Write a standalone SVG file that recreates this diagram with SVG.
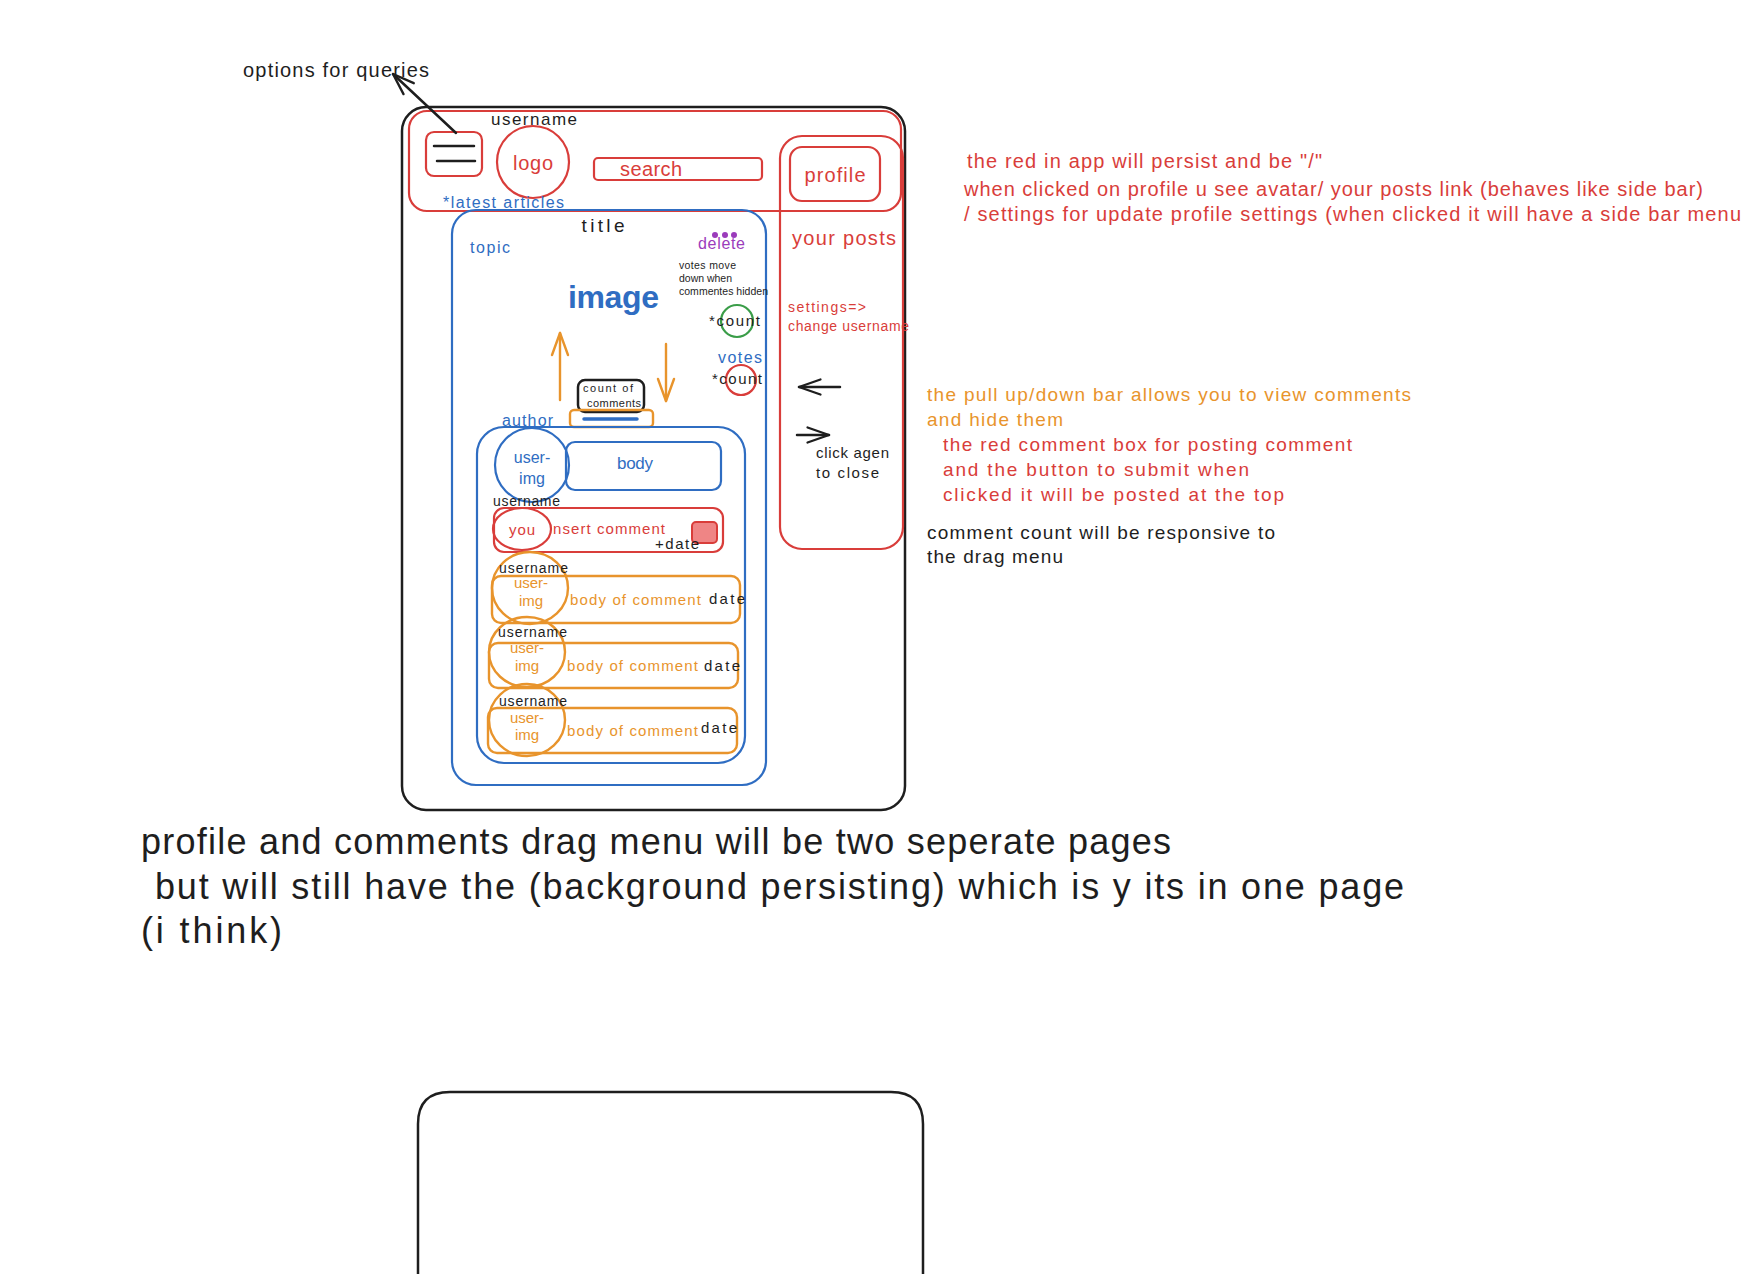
<svg xmlns="http://www.w3.org/2000/svg" width="1763" height="1274" viewBox="0 0 1763 1274">
  <style>
    text { font-family: "Liberation Sans", Arial, sans-serif; dominant-baseline: central; }
    .k { fill: #1e1e1e; }
    .r { fill: #d93d3a; }
    .b { fill: #2f6dc2; }
    .o { fill: #e8942c; }
    .p { fill: #9b3cbb; }
    .mid { text-anchor: middle; }
    .sk { fill: none; stroke: #1e1e1e; stroke-width: 2.5; stroke-linecap: round; }
    .sr { fill: none; stroke: #d93d3a; stroke-width: 2.2; }
    .sb { fill: none; stroke: #2f6dc2; stroke-width: 2.2; }
    .so { fill: none; stroke: #e8942c; stroke-width: 2.4; }
    .sg { fill: none; stroke: #3a9d48; stroke-width: 2.2; }
    .f20 { font-size: 20px; }
    .f16 { font-size: 16px; }
    .f15 { font-size: 15px; }
    .f14 { font-size: 14px; }
  </style>
  <defs>
    <marker id="headK" markerUnits="userSpaceOnUse" markerWidth="30" markerHeight="30" viewBox="-24 -12 28 24" refX="0" refY="0" orient="auto">
      <path d="M -20 -7 L 0 0 L -20 7" fill="none" stroke="#1e1e1e" stroke-width="2.2" stroke-linecap="round" stroke-linejoin="round"/>
    </marker>
    <marker id="headO" markerUnits="userSpaceOnUse" markerWidth="30" markerHeight="30" viewBox="-26 -12 30 24" refX="0" refY="0" orient="auto">
      <path d="M -22 -8 L 0 0 L -22 8" fill="none" stroke="#e8942c" stroke-width="2.4" stroke-linecap="round" stroke-linejoin="round"/>
    </marker>
  </defs>

  <rect width="1763" height="1274" fill="#ffffff"/>

  <!-- phone frame -->
  <g id="phone-frame">
    <rect x="402" y="107" width="503" height="703" rx="24" class="sk"/>
  </g>

  <!-- top app bar -->
  <g id="app-bar">
    <rect x="409" y="111" width="492" height="100" rx="18" class="sr"/>
  </g>
  <g id="menu-button">
    <rect x="426" y="132" width="56" height="44" rx="8" class="sr"/>
    <line x1="434" y1="146" x2="474" y2="146" class="sk"/>
    <line x1="437" y1="161" x2="475" y2="161" class="sk"/>
  </g>
  <g id="logo">
    <text x="534" y="119" class="k mid" font-size="17" textLength="86">username</text>
    <ellipse cx="533" cy="162" rx="36" ry="36" class="sr"/>
    <text x="533" y="163" class="r mid f20" textLength="40">logo</text>
  </g>
  <g id="search">
    <rect x="594" y="158" width="168" height="22" rx="4" class="sr"/>
    <text x="620" y="169" class="r f20" textLength="62">search</text>
  </g>
  <g id="profile-panel">
    <rect x="780" y="136" width="123" height="413" rx="22" class="sr"/>
    <rect x="790" y="147" width="90" height="54" rx="12" class="sr"/>
    <text x="835" y="175" class="r mid f20" textLength="61">profile</text>
    <text x="792" y="238" class="r f20" textLength="104">your posts</text>
    <text x="788" y="307" class="r f14" textLength="78">settings=&gt;</text>
    <text x="788" y="326" class="r f14" textLength="121">change username</text>
    <text x="816" y="452" class="k f15" textLength="73">click agen</text>
    <text x="816" y="472" class="k f15" textLength="63">to close</text>
  </g>
  <g id="latest-articles">
    <text x="443" y="202" class="b f16" textLength="121">*latest articles</text>
  </g>

  <!-- article card -->
  <g id="article-card">
    <rect x="452" y="210" width="314" height="575" rx="24" class="sb"/>
    <text x="603" y="225" class="k mid" font-size="19" textLength="43">title</text>
    <text x="470" y="247" class="b f16" textLength="40">topic</text>
    <text x="568" y="297" class="b" font-size="32" font-weight="bold" textLength="91">image</text>
    <text x="502" y="420" class="b f16" textLength="51">author</text>
  </g>
  <g id="delete">
    <circle cx="715" cy="235" r="3" class="p"/>
    <circle cx="725" cy="235" r="3" class="p"/>
    <circle cx="734" cy="235" r="3" class="p"/>
    <text x="698" y="243" class="p f16" textLength="47">delete</text>
  </g>
  <g id="votes-note">
    <text x="679" y="265" class="k" font-size="10.5" textLength="57">votes move</text>
    <text x="679" y="278" class="k" font-size="10.5" textLength="53">down when</text>
    <text x="679" y="291" class="k" font-size="10.5" textLength="89">commentes hidden</text>
  </g>
  <g id="comment-count">
    <circle cx="737" cy="321" r="16" class="sg"/>
    <text x="709" y="320" class="k f15" textLength="51">*count</text>
  </g>
  <g id="votes">
    <text x="718" y="357" class="b f16" textLength="44">votes</text>
    <circle cx="741" cy="380" r="15" class="sr"/>
    <text x="712" y="378" class="k f15" textLength="50">*count</text>
  </g>
  <g id="count-of-comments">
    <rect x="578" y="380" width="66" height="32" rx="7" class="sk" stroke-width="2"/>
    <text x="583" y="388" class="k" font-size="11" textLength="50">count of</text>
    <text x="587" y="403" class="k" font-size="11" textLength="54">comments</text>
  </g>
  <g id="drag-bar">
    <rect x="570" y="410" width="83" height="17" rx="4" class="so"/>
    <line x1="584" y1="419" x2="637" y2="419" stroke="#2f6dc2" stroke-width="3.5" stroke-linecap="round"/>
  </g>

  <!-- comments panel -->
  <g id="comments-panel">
    <rect x="477" y="427" width="268" height="336" rx="27" class="sb"/>
  </g>
  <g id="author-post">
    <circle cx="532" cy="465" r="37" class="sb"/>
    <text x="532" y="457" class="b mid f16">user-</text>
    <text x="532" y="478" class="b mid f16">img</text>
    <rect x="566" y="442" width="155" height="48" rx="9" class="sb"/>
    <text x="635" y="463" class="b mid" font-size="17" textLength="36">body</text>
  </g>
  <g id="new-comment">
    <text x="493" y="501" class="k f14" textLength="67">username</text>
    <rect x="494" y="508" width="229" height="44" rx="10" class="sr"/>
    <ellipse cx="522" cy="529" rx="29" ry="21" class="sr"/>
    <text x="522" y="529" class="r mid f15" textLength="26">you</text>
    <text x="553" y="528" class="r f15" textLength="112">nsert comment</text>
    <rect x="692" y="522" width="25" height="21" rx="4" fill="#ef8585" stroke="#d93d3a" stroke-width="2"/>
    <text x="655" y="543" class="k f15" textLength="44">+date</text>
  </g>
  <g id="comment-1">
    <ellipse cx="530" cy="588" rx="38" ry="36" class="so"/>
    <rect x="492" y="576" width="248" height="47" rx="9" class="so"/>
    <text x="531" y="582" class="o mid f15">user-</text>
    <text x="531" y="600" class="o mid f15">img</text>
    <text x="499" y="568" class="k f14" textLength="69">username</text>
    <text x="570" y="599" class="o f15" textLength="131">body of comment</text>
    <text x="709" y="598" class="k f15" textLength="36">date</text>
  </g>
  <g id="comment-2">
    <ellipse cx="527" cy="652" rx="38" ry="35" class="so"/>
    <rect x="489" y="643" width="249" height="45" rx="9" class="so"/>
    <text x="527" y="647" class="o mid f15">user-</text>
    <text x="527" y="665" class="o mid f15">img</text>
    <text x="498" y="632" class="k f14" textLength="69">username</text>
    <text x="567" y="665" class="o f15" textLength="131">body of comment</text>
    <text x="704" y="665" class="k f15" textLength="36">date</text>
  </g>
  <g id="comment-3">
    <ellipse cx="527" cy="720" rx="38" ry="36" class="so"/>
    <rect x="488" y="708" width="249" height="45" rx="9" class="so"/>
    <text x="527" y="717" class="o mid f15">user-</text>
    <text x="527" y="734" class="o mid f15">img</text>
    <text x="499" y="701" class="k f14" textLength="68">username</text>
    <text x="567" y="730" class="o f15" textLength="131">body of comment</text>
    <text x="701" y="727" class="k f15" textLength="36">date</text>
  </g>

  <!-- annotations -->
  <g id="label-options">
    <text x="243" y="70" class="k f20" textLength="186">options for queries</text>
  </g>
  <g id="note-profile">
    <text x="967" y="161" class="r f20" textLength="355">the red in app will persist and be "/"</text>
    <text x="964" y="189" class="r f20" textLength="739">when clicked on profile u see avatar/ your posts link (behaves like side bar)</text>
    <text x="964" y="214" class="r f20" textLength="777">/ settings for update profile settings (when clicked it will have a side bar menu</text>
  </g>
  <g id="note-drag">
    <text x="927" y="394" class="o" font-size="19" textLength="484">the pull up/down bar allows you to view comments</text>
    <text x="927" y="419" class="o" font-size="19" textLength="136">and hide them</text>
  </g>
  <g id="note-comment-box">
    <text x="943" y="444" class="r" font-size="19" textLength="409">the red comment box for posting comment</text>
    <text x="943" y="469" class="r" font-size="19" textLength="306">and the button to submit when</text>
    <text x="943" y="494" class="r" font-size="19" textLength="341">clicked it will be posted at the top</text>
  </g>
  <g id="note-count">
    <text x="927" y="532" class="k" font-size="19" textLength="348">comment count will be responsive to</text>
    <text x="927" y="556" class="k" font-size="19" textLength="136">the drag menu</text>
  </g>
  <g id="note-pages">
    <text x="141" y="841" class="k" font-size="36" textLength="1030">profile and comments drag menu will be two seperate pages</text>
    <text x="155" y="886" class="k" font-size="36" textLength="1249">but will still have the (background persisting) which is y its in one page</text>
    <text x="141" y="930" class="k" font-size="36" textLength="141">(i think)</text>
  </g>

  <!-- second page frame -->
  <g id="page-frame-2">
    <path d="M 418 1320 L 418 1124 Q 418 1092 450 1092 L 891 1092 Q 923 1092 923 1124 L 923 1320" class="sk"/>
  </g>

  <!-- arrows -->
  <g id="connectors">
    <line x1="456" y1="133" x2="393" y2="74" class="sk" stroke-width="2.2" marker-end="url(#headK)"/>
    <line x1="560" y1="400" x2="560" y2="333" class="so" stroke-linecap="round" marker-end="url(#headO)"/>
    <line x1="666" y1="344" x2="666" y2="401" class="so" stroke-linecap="round" marker-end="url(#headO)"/>
    <line x1="840" y1="387" x2="799" y2="387" class="sk" stroke-width="2.2" marker-end="url(#headK)"/>
    <line x1="797" y1="435" x2="829" y2="435" class="sk" stroke-width="2.2" marker-end="url(#headK)"/>
  </g>
</svg>
